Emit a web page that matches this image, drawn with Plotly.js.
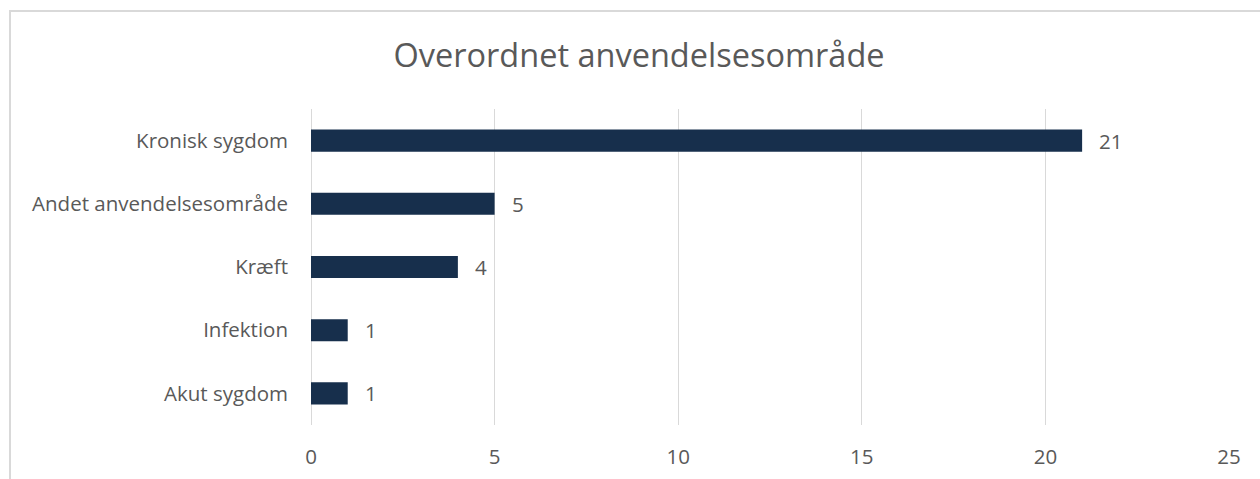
<!DOCTYPE html>
<html>
<head>
<meta charset="utf-8">
<script src="https://cdn.plot.ly/plotly-3.0.1.min.js"></script>
<style>
  html, body { margin: 0; padding: 0; background: #fff; }
  #wrap { position: relative; width: 1260px; height: 479px; overflow: hidden; }
  #chart { position: absolute; left: 0; top: 0; width: 1260px; height: 479px; }
  #frame { position: absolute; left: 9px; top: 10px; width: 1400px; height: 600px;
           border-left: 2px solid #d9d9d9; border-top: 2px solid #d9d9d9; pointer-events: none; }
</style>
</head>
<body>
<div id="wrap">
  <div id="chart"></div>
  <div id="frame"></div>
</div>
<script>
// Data (bottom to top)
const categories = ["Akut sygdom", "Infektion", "Kræft", "Andet anvendelsesområde", "Kronisk sygdom"];
const counts = [1, 1, 4, 5, 21];
const xTickValues = [0, 5, 10, 15, 20, 25];

const fontFamily = "'Open Sans', Lato, 'Liberation Sans', sans-serif";
const textColor = "#595959";

const trace = {
  type: "bar",
  orientation: "h",
  x: counts,
  y: categories,
  marker: { color: "#172f4c" },
  hoverinfo: "x+y"
};

const annotations = categories.map((c, i) => ({
  x: counts[i], y: c, xref: "x", yref: "y",
  text: String(counts[i]),
  showarrow: false, xanchor: "left", xshift: 15,
  font: { family: fontFamily, size: 20.5, color: textColor }
}));

const layout = {
  width: 1260, height: 479,
  margin: { l: 311, r: 31, t: 109, b: 54 },
  paper_bgcolor: "rgba(0,0,0,0)",
  plot_bgcolor: "rgba(0,0,0,0)",
  bargap: 0.65,
  showlegend: false,
  title: {
    text: "Overordnet anvendelsesområde",
    font: { family: fontFamily, size: 32.5, color: textColor },
    x: 639 / 1260, xref: "container", xanchor: "center",
    y: 1 - 56 / 479, yref: "container", yanchor: "middle"
  },
  xaxis: {
    range: [0, 25],
    tickvals: xTickValues,
    ticktext: xTickValues.map(String),
    showgrid: true, gridcolor: "#d9d9d9", gridwidth: 1,
    zeroline: true, zerolinecolor: "#d9d9d9", zerolinewidth: 1,
    showline: false, ticks: "",
    ticklabelstandoff: 17,
    tickfont: { family: fontFamily, size: 20.5, color: textColor },
    fixedrange: true
  },
  yaxis: {
    type: "category",
    categoryorder: "array", categoryarray: categories,
    showgrid: false, zeroline: false, showline: false, ticks: "",
    ticklabelstandoff: 22,
    tickfont: { family: fontFamily, size: 20.5, color: textColor },
    fixedrange: true
  },
  annotations: annotations,
  font: { family: fontFamily, color: textColor }
};

Plotly.newPlot("chart", [trace], layout, { displayModeBar: false, staticPlot: true });
</script>
</body>
</html>
